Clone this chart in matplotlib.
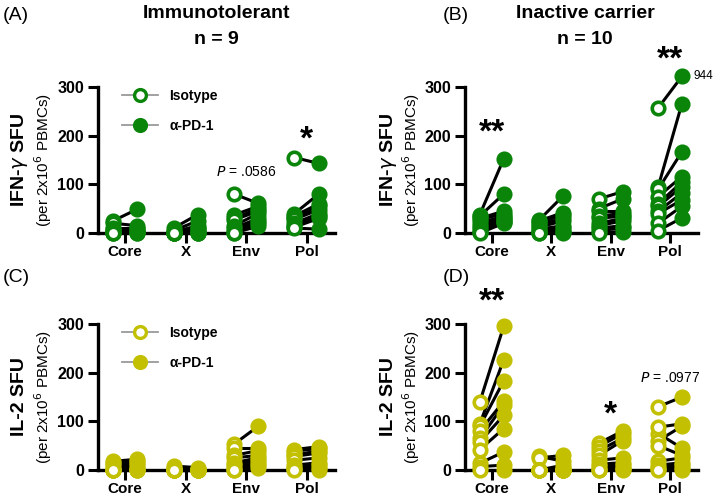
import numpy as np
import matplotlib
matplotlib.use("Agg")
import matplotlib.pyplot as plt
from matplotlib.lines import Line2D

plt.rcParams['font.family'] = ['Liberation Sans', 'DejaVu Sans']

# Data (SFU per 2x10^6 PBMCs)

antigens = ["Core", "X", "Env", "Pol"]

# (A) Immunotolerant, IFN-g, n = 9
A_iso = [
    [25, 20, 10, 8, 5, 3, 0, 0, 0],
    [10, 5, 2, 0, 0, 0, 0, 0, 0],
    [80, 37, 30, 27, 15, 10, 5, 0, 0],
    [155, 40, 35, 30, 28, 20, 15, 12, 10],
]
A_pd1 = [
    [49, 15, 10, 8, 5, 3, 2, 0, 0],
    [38, 25, 15, 10, 8, 5, 0, 0, 0],
    [61, 55, 50, 45, 40, 30, 25, 20, 14],
    [143, 80, 60, 55, 48, 40, 35, 30, 8],
]

# (B) Inactive carrier, IFN-g, n = 10
B_iso = [
    [38, 35, 30, 27, 20, 15, 10, 5, 2, 0],
    [27, 25, 20, 17, 12, 8, 5, 2, 0, 0],
    [70, 50, 45, 35, 30, 20, 15, 10, 5, 0],
    [257, 95, 90, 75, 60, 55, 45, 40, 20, 5],
]
B_pd1 = [
    [152, 80, 45, 40, 35, 30, 28, 25, 22, 20],
    [76, 42, 38, 30, 25, 15, 10, 5, 3, 0],
    [85, 70, 45, 40, 35, 30, 25, 15, 10, 3],
    [944, 266, 167, 116, 105, 95, 82, 68, 55, 31],
]

# (C) Immunotolerant, IL-2, n = 9
C_iso = [
    [18, 14, 10, 5, 0, 0, 0, 0, 0],
    [8, 5, 0, 0, 0, 0, 0, 0, 0],
    [53, 45, 30, 25, 15, 10, 5, 0, 0],
    [42, 38, 30, 28, 20, 10, 5, 2, 0],
]
C_pd1 = [
    [22, 18, 15, 10, 5, 3, 0, 0, 0],
    [5, 3, 0, 0, 0, 0, 0, 0, 0],
    [90, 45, 40, 30, 25, 20, 15, 10, 5],
    [48, 45, 40, 35, 25, 15, 10, 5, 0],
]

# (D) Inactive carrier, IL-2, n = 10
D_iso = [
    [140, 95, 90, 80, 65, 58, 42, 14, 7, 0],
    [28, 25, 0, 0, 0, 0, 0, 0, 0, 0],
    [55, 48, 40, 30, 20, 12, 8, 3, 0, 0],
    [130, 75, 88, 60, 50, 18, 10, 5, 2, 0],
]
D_pd1 = [
    [295, 226, 183, 141, 133, 112, 85, 37, 10, 0],
    [18, 30, 10, 5, 0, 0, 0, 0, 0, 0],
    [80, 75, 65, 60, 25, 15, 10, 5, 2, 0],
    [150, 45, 95, 90, 30, 25, 15, 10, 5, 0],
]

top_cap = 322   # off-scale value (944) drawn just above the axis

green = "#0a850a"
olive = "#c2c000"


def paired_panel(ax, iso, pd1, color):
    for i in range(len(antigens)):
        y0 = np.minimum(iso[i], top_cap)
        y1 = np.minimum(pd1[i], top_cap)
        x0 = np.full(len(y0), i - 0.2)
        x1 = np.full(len(y1), i + 0.2)
        for a, b in zip(y0, y1):
            ax.plot([i - 0.2, i + 0.2], [a, b], color="black", lw=2.2,
                    zorder=2, clip_on=False)
        ax.plot(x0, y0, "o", ms=9, mfc="white", mec=color, mew=2.6,
                ls="none", zorder=3, clip_on=False)
        ax.plot(x1, y1, "o", ms=9, mfc=color, mec=color, mew=2.6,
                ls="none", zorder=3, clip_on=False)

    ax.set_xlim(-0.45, 3.47)
    ax.set_ylim(0, 300)
    ax.set_yticks([0, 100, 200, 300])
    ax.set_xticks(range(len(antigens)))
    ax.set_xticklabels(antigens, fontsize=11, fontweight="bold")
    for lab in ax.get_yticklabels():
        lab.set_fontweight("bold")
        lab.set_fontsize(11.5)
    for s in ["top", "right"]:
        ax.spines[s].set_visible(False)
    for s in ["left", "bottom"]:
        ax.spines[s].set_linewidth(2.4)
    ax.tick_params(width=2.2, length=7, pad=3)
    ax.tick_params(axis="x", pad=1.5)


def ylabels(ax, title):
    ax.text(-0.33, 0.5, title, transform=ax.transAxes, rotation=90,
            ha="center", va="center", fontsize=14, fontweight="bold")
    ax.text(-0.23, 0.5, r"(per 2x10$^6$ PBMCs)", transform=ax.transAxes,
            rotation=90, ha="center", va="center", fontsize=11)


def legend(ax, color):
    handles = [
        Line2D([], [], color="#9a9a9a", lw=1.3, marker="o", ms=8.5,
               mfc="white", mec=color, mew=2.4),
        Line2D([], [], color="#9a9a9a", lw=1.3, marker="o", ms=8.5,
               mfc=color, mec=color, mew=2.4),
    ]
    ax.legend(handles, ["Isotype", "\u03b1-PD-1"], loc="upper left",
              bbox_to_anchor=(0.05, 1.07), frameon=False, handlelength=2.6,
              labelspacing=1.1, prop={"weight": "bold", "size": 10})


fig = plt.figure(figsize=(7.2, 5.03), dpi=100)
W, H = 720, 503


def add_ax(left, right, top, bottom):
    return fig.add_axes([left / W, 1 - bottom / H, (right - left) / W,
                         (bottom - top) / H])


axA = add_ax(98, 335, 87, 233)
axB = add_ax(465, 698, 87, 233)
axC = add_ax(98, 335, 324, 470)
axD = add_ax(465, 698, 324, 470)

paired_panel(axA, A_iso, A_pd1, green)
paired_panel(axB, B_iso, B_pd1, green)
paired_panel(axC, C_iso, C_pd1, olive)
paired_panel(axD, D_iso, D_pd1, olive)

ylabels(axA, r"IFN-$\gamma$ SFU")
ylabels(axB, r"IFN-$\gamma$ SFU")
ylabels(axC, "IL-2 SFU")
ylabels(axD, "IL-2 SFU")

legend(axA, green)
legend(axC, olive)

# panel letters and headers
fig.text(3 / W, 1 - 16 / H, "(A)", fontsize=14, va="center")
fig.text(443 / W, 1 - 16 / H, "(B)", fontsize=14, va="center")
fig.text(3 / W, 1 - 278 / H, "(C)", fontsize=14, va="center")
fig.text(443 / W, 1 - 278 / H, "(D)", fontsize=14, va="center")
fig.text(216 / W, 1 - 14 / H, "Immunotolerant", fontsize=14,
         fontweight="bold", ha="center", va="center")
fig.text(216 / W, 1 - 40 / H, "n = 9", fontsize=14, fontweight="bold",
         ha="center", va="center")
fig.text(585 / W, 1 - 14 / H, "Inactive carrier", fontsize=14,
         fontweight="bold", ha="center", va="center")
fig.text(585 / W, 1 - 40 / H, "n = 10", fontsize=14, fontweight="bold",
         ha="center", va="center")

# significance marks
star_kw = dict(ha="center", va="center", fontsize=24, fontweight="bold",
               clip_on=False)
axA.text(3, 190, "*", **star_kw)
axB.text(0, 205, "**", **star_kw)
axB.text(3, 355, "**", **star_kw)
axD.text(0, 345, "**", **star_kw)
axD.text(2, 113, "*", **star_kw)

axA.text(2, 125, r"$\it{P}$ = .0586", ha="center", va="center", fontsize=10)
axD.text(3, 190, r"$\it{P}$ = .0977", ha="center", va="center", fontsize=10)
axB.text(3.4, top_cap, "944", ha="left", va="center", fontsize=8.5)

fig.savefig("out.png", dpi=100)
